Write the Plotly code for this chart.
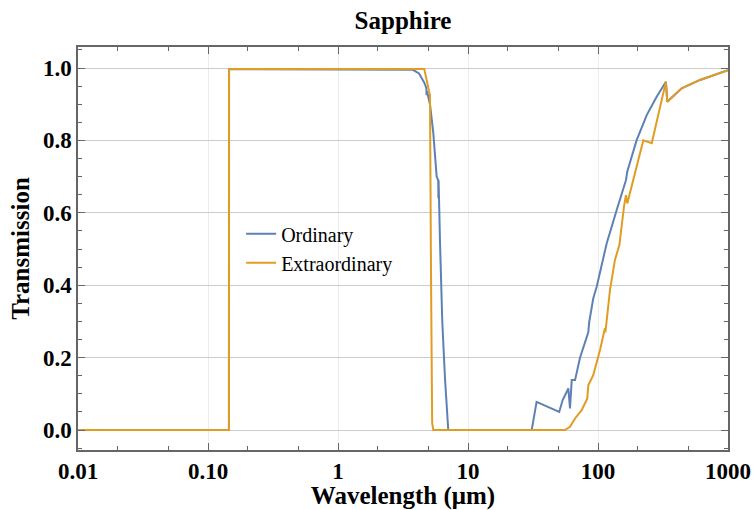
import plotly.graph_objects as go

# Ordinary ray transmission
ord_wl = [0.01, 0.1449, 0.1452, 3.0, 3.77, 4.2, 4.6, 4.78, 4.80, 4.84, 5.1, 5.41, 5.74, 5.90, 5.92, 5.94,
          6.09, 6.2, 6.34, 6.66, 6.85, 7.05, 30.9, 33.7, 50.3, 53.5, 59.1, 60.9, 62.8, 66.6,
          72.7, 84.2, 85.7, 92.0, 97.7, 116.7, 139.3, 164, 168, 198, 237, 282, 333,
          341, 440, 609, 1000]
ord_t = [0.0, 0.0, 0.997, 0.997, 0.995, 0.985, 0.96, 0.945, 0.925, 0.935, 0.90, 0.82, 0.70, 0.69, 0.64, 0.69,
         0.52, 0.42, 0.30, 0.14, 0.06, 0.0, 0.0, 0.078, 0.05, 0.083, 0.115, 0.06, 0.138, 0.138,
         0.20, 0.27, 0.30, 0.364, 0.396, 0.516, 0.608, 0.69, 0.714, 0.80, 0.87, 0.92, 0.962,
         0.907, 0.944, 0.967, 0.994]

# Extraordinary ray transmission
ext_wl = [0.01, 0.1449, 0.1452, 4.61, 5.03, 5.10, 5.20, 5.30, 5.41, 55.7, 60.9, 66.6, 74.9, 82.7,
          84.2, 92.0, 103.6, 113, 114, 123.7, 135, 146, 158.5, 164, 168, 198, 223, 259,
          333, 341, 440, 609, 1000]
ext_t = [0.0, 0.0, 0.997, 0.997, 0.934, 0.925, 0.40, 0.02, 0.0, 0.0, 0.009, 0.032, 0.055, 0.0875,
         0.124, 0.152, 0.221, 0.281, 0.27, 0.387, 0.47, 0.511, 0.617, 0.649, 0.626, 0.723, 0.80, 0.792,
         0.962, 0.907, 0.944, 0.967, 0.994]

x_tickvals = [0.01, 0.1, 1, 10, 100, 1000]
x_ticktext = ["0.01", "0.10", "1", "10", "100", "1000"]
y_tickvals = [0.0, 0.2, 0.4, 0.6, 0.8, 1.0]
y_ticktext = ["0.0", "0.2", "0.4", "0.6", "0.8", "1.0"]

BLUE = "#5E81B5"
ORANGE = "#E19C24"
FONT = "Liberation Serif"

fig = go.Figure()
fig.add_trace(go.Scatter(x=ord_wl, y=ord_t, mode="lines", name="Ordinary",
                         line=dict(color=BLUE, width=2)))
fig.add_trace(go.Scatter(x=ext_wl, y=ext_t, mode="lines", name="Extraordinary",
                         line=dict(color=ORANGE, width=2)))

axis_common = dict(
    showline=True, linecolor="#666666", linewidth=1.5, mirror="allticks",
    ticks="inside", tickcolor="#666666", ticklen=7, tickwidth=1,
    tickfont=dict(family=FONT, size=23, color="black"),
    zeroline=False, automargin=False,
)

fig.update_xaxes(type="log", range=[-2, 3], tickvals=x_tickvals,
                 ticktext=["<b>%s</b>" % t for t in x_ticktext],
                 showgrid=True, gridcolor="#ececec", gridwidth=1,
                 minor=dict(ticks="inside", ticklen=4, tickcolor="#666666", showgrid=False),
                 title=dict(text="<b>Wavelength (μm)</b>", font=dict(family=FONT, size=25, color="black"),
                            standoff=9),
                 **axis_common)
fig.update_yaxes(range=[-0.055, 1.058], tickvals=y_tickvals, ticktext=["<b>%s</b>" % t for t in y_ticktext],
                 showgrid=True, gridcolor="#cccccc", gridwidth=1,
                 minor=dict(dtick=0.05, ticks="inside", ticklen=4, tickcolor="#666666", showgrid=False),
                 title=dict(text="<b>Transmission</b>", font=dict(family=FONT, size=25, color="black"),
                            standoff=6),
                 **axis_common)

fig.update_layout(
    width=754, height=510,
    margin=dict(l=78, r=26, t=47, b=60),
    plot_bgcolor="white", paper_bgcolor="white",
    title=dict(text="<b>Sapphire</b>", x=0.5345, xanchor="center", y=0.96, yanchor="middle",
               font=dict(family=FONT, size=25, color="black")),
    legend=dict(x=0.251, y=0.585, xanchor="left", yanchor="top", bgcolor="rgba(0,0,0,0)",
                font=dict(family=FONT, size=20, color="black"), itemwidth=30, tracegroupgap=0),
    showlegend=True,
)

fig.write_html("out.html")
